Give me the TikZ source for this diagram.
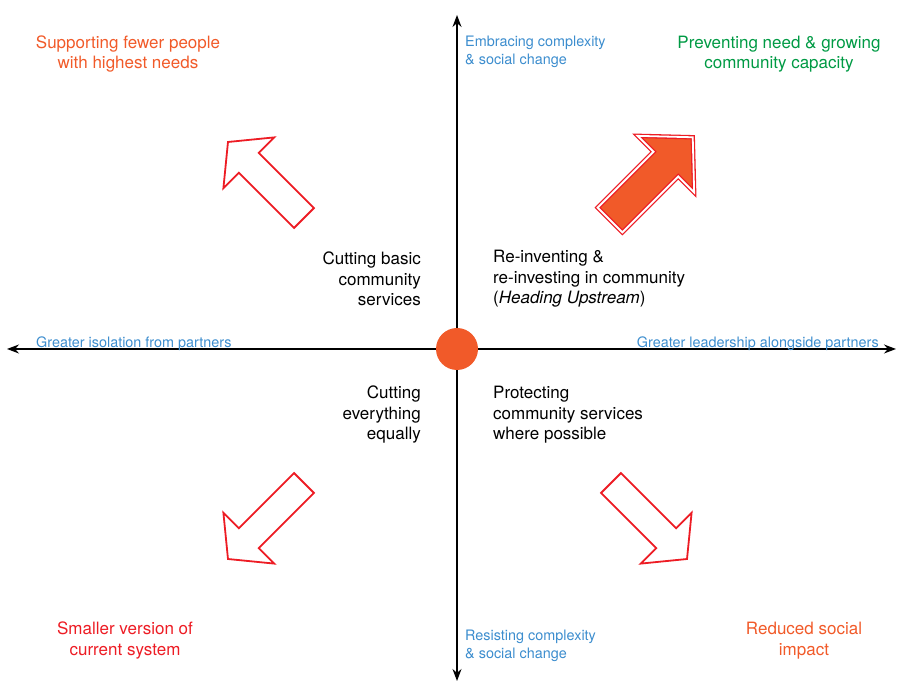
\documentclass[tikz,border=0pt]{standalone}
\usepackage{fontspec}
\setmainfont{TeX Gyre Heros}
\usepackage{xcolor}
\usetikzlibrary{arrows.meta}
\definecolor{hubOrange}{HTML}{F15A29}
\definecolor{arrowRed}{HTML}{ED1C24}
\definecolor{capGreen}{HTML}{009A44}
\definecolor{axisBlue}{HTML}{3C8DCE}

\begin{document}
\begin{tikzpicture}[line cap=round,line join=round,x=1pt,y=1pt,
  quadtext/.style={font=\fontsize{17}{20.5}\selectfont,inner sep=0pt},
  axistext/.style={font=\fontsize{14.4}{18}\selectfont,inner sep=0pt,text=axisBlue},
  hollowarrow/.style={draw=arrowRed,line width=1.8pt,line join=miter,fill=white},
  solidarrow/.style={draw=arrowRed,line width=1.3pt,double=white,double distance=1.8pt,line join=miter,fill=hubOrange},
  axistip/.style={line width=1.2pt,{Stealth[length=12pt,width=9pt]}-{Stealth[length=12pt,width=9pt]}}]
\useasboundingbox (0,0) rectangle (897,682);
% axes
\coordinate (west) at (7,333);
\coordinate (east) at (896,333);
\coordinate (north) at (457,667);
\coordinate (south) at (457,1);
\draw [axistip] (west) -- (east);
\draw [axistip] (south) -- (north);
\node (hub) at (457,333) [circle,fill=hubOrange,minimum size=42pt,inner sep=0pt] {};

% quadrant arrows
\begin{scope}[shift={(304,464)},rotate=135]
\draw [hollowarrow] (0,-14) -- (78,-14) -- (78,-36) -- (107.5,0) -- (78,36) -- (78,14) -- (0,14) -- cycle;
\end{scope}
\begin{scope}[shift={(304,199)},rotate=225]
\draw [hollowarrow] (0,-14) -- (78,-14) -- (78,-36) -- (107.5,0) -- (78,36) -- (78,14) -- (0,14) -- cycle;
\end{scope}
\begin{scope}[shift={(611,199)},rotate=315]
\draw [hollowarrow] (0,-14) -- (78,-14) -- (78,-36) -- (107.5,0) -- (78,36) -- (78,14) -- (0,14) -- cycle;
\end{scope}
\begin{scope}[shift={(610,462)},rotate=45]
\draw [solidarrow] (0,-17.5) -- (79,-17.5) -- (79,-40) -- (117,0) -- (79,40) -- (79,17.5) -- (0,17.5) -- cycle;
\end{scope}

% corner labels
\node (highneeds) at (128,628) [quadtext,text=hubOrange,align=center] {Supporting fewer people\\with highest needs};
\node (capacity) at (779,628) [quadtext,text=capGreen,align=center] {Preventing need \& growing\\community capacity};
\node (smaller) at (125,41.5) [quadtext,text=arrowRed,align=center] {Smaller version of\\current system};
\node (reduced) at (804,41.5) [quadtext,text=hubOrange,align=center] {Reduced social\\impact};

% quadrant texts
\node (cutbasic) at (421,403) [quadtext,anchor=east,align=right] {Cutting basic\\community\\services};
\node (reinvent) at (493,403) [quadtext,anchor=west,align=left] {Re-inventing \&\\re-investing in community\\(\textit{Heading Upstream})};
\node (cutall) at (421,267) [quadtext,anchor=east,align=right] {Cutting\\everything\\equally};
\node (protect) at (493,267) [quadtext,anchor=west,align=left] {Protecting\\community services\\where possible};

% axis labels
\node (embracing) at (465,630) [axistext,anchor=west,align=left] {Embracing complexity\\\& social change};
\node (resisting) at (465,36) [axistext,anchor=west,align=left] {Resisting complexity\\\& social change};
\node (isolation) at (36,334) [axistext,anchor=base west] {Greater isolation from partners};
\node (leadership) at (879,334) [axistext,anchor=base east] {Greater leadership alongside partners};
\end{tikzpicture}
\end{document}
